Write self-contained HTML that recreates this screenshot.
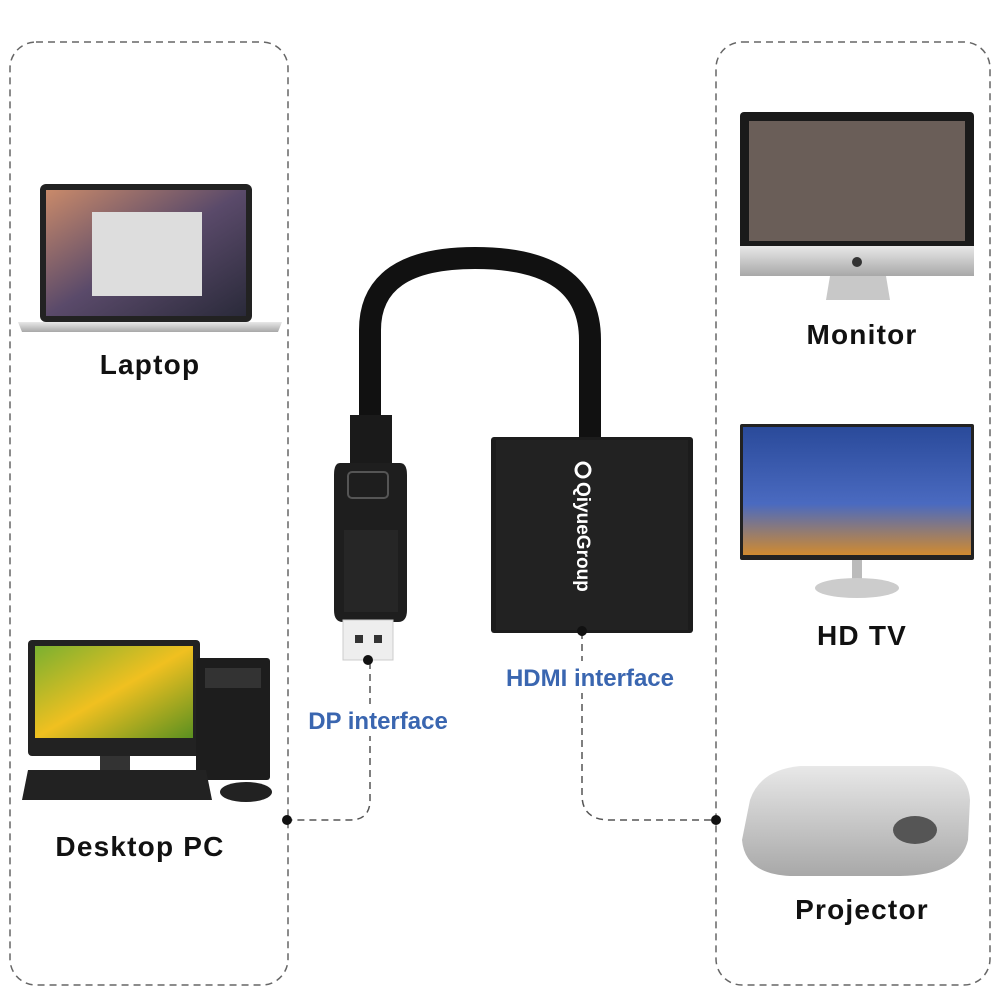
<!DOCTYPE html>
<html><head><meta charset="utf-8"><style>
html,body{margin:0;padding:0;background:#fff;}
svg{display:block;}
text{font-family:"Liberation Sans","DejaVu Sans",sans-serif;font-weight:bold;}
</style></head><body>
<svg width="1001" height="1001" viewBox="0 0 1001 1001" xmlns="http://www.w3.org/2000/svg">
<defs>
<linearGradient id="silver" x1="0" y1="0" x2="0" y2="1"><stop offset="0" stop-color="#e8e8e8"/><stop offset="1" stop-color="#a8a8a8"/></linearGradient>
<linearGradient id="scr" x1="0" y1="0" x2="1" y2="1"><stop offset="0" stop-color="#c98a6a"/><stop offset="0.5" stop-color="#5a4a6a"/><stop offset="1" stop-color="#2a2a3a"/></linearGradient>
<linearGradient id="tv" x1="0" y1="0" x2="0" y2="1"><stop offset="0" stop-color="#2a4a9a"/><stop offset="0.6" stop-color="#4a6ac0"/><stop offset="1" stop-color="#d08a30"/></linearGradient>
<linearGradient id="flower" x1="0" y1="0" x2="1" y2="1"><stop offset="0" stop-color="#7ab030"/><stop offset="0.5" stop-color="#f0c020"/><stop offset="1" stop-color="#5a9020"/></linearGradient>
</defs>
<rect x="10" y="42" width="278" height="943" rx="26" fill="none" stroke="#666" stroke-width="1.5" stroke-dasharray="7,5"/>
<rect x="716" y="42" width="274" height="943" rx="26" fill="none" stroke="#666" stroke-width="1.5" stroke-dasharray="7,5"/>

<!-- laptop -->
<rect x="40" y="184" width="212" height="138" rx="6" fill="#222"/>
<rect x="46" y="190" width="200" height="126" fill="url(#scr)"/>
<rect x="92" y="212" width="110" height="84" fill="#ddd"/>
<path d="M18 322 H282 L278 332 H22 Z" fill="url(#silver)"/>
<text x="150" y="374" font-size="28" letter-spacing="1.2" text-anchor="middle" fill="#111">Laptop</text>

<!-- desktop -->
<rect x="28" y="640" width="172" height="116" rx="4" fill="#222"/>
<rect x="35" y="646" width="158" height="92" fill="url(#flower)"/>
<rect x="100" y="756" width="30" height="14" fill="#333"/>
<rect x="196" y="658" width="74" height="122" rx="3" fill="#1d1d1d"/>
<rect x="205" y="668" width="56" height="20" fill="#333"/>
<path d="M28 770 H206 L212 800 H22 Z" fill="#222"/>
<ellipse cx="246" cy="792" rx="26" ry="10" fill="#222"/>
<text x="140" y="856" font-size="28" letter-spacing="1.2" text-anchor="middle" fill="#111">Desktop PC</text>

<!-- monitor -->
<rect x="740" y="112" width="234" height="148" rx="4" fill="#1a1a1a"/>
<rect x="749" y="121" width="216" height="120" fill="#6a5e58"/>
<rect x="740" y="246" width="234" height="30" fill="url(#silver)"/>
<circle cx="857" cy="262" r="5" fill="#333"/>
<path d="M830 276 H886 L890 300 H826 Z" fill="#c8c8c8"/>
<text x="862" y="344" font-size="28" letter-spacing="1.2" text-anchor="middle" fill="#111">Monitor</text>

<!-- tv -->
<rect x="740" y="424" width="234" height="136" rx="2" fill="#222"/>
<rect x="743" y="427" width="228" height="128" fill="url(#tv)"/>
<rect x="852" y="560" width="10" height="20" fill="#bbb"/>
<ellipse cx="857" cy="588" rx="42" ry="10" fill="#ccc"/>
<text x="862" y="645" font-size="28" letter-spacing="1.2" text-anchor="middle" fill="#111">HD TV</text>

<!-- projector -->
<path d="M750 800 Q760 770 800 766 H930 Q968 768 970 800 L968 840 Q960 875 900 876 H790 Q745 874 742 840 Z" fill="url(#silver)"/>
<ellipse cx="915" cy="830" rx="22" ry="14" fill="#555"/>
<text x="862" y="919" font-size="28" letter-spacing="1.2" text-anchor="middle" fill="#111">Projector</text>

<!-- cable -->
<path d="M370 420 V330 Q370 258 475 258 Q590 258 590 340 V440" fill="none" stroke="#111" stroke-width="22"/>
<rect x="350" y="415" width="42" height="50" fill="#1a1a1a"/>
<path d="M340 463 H400 Q407 463 407 475 V610 Q407 622 398 622 H343 Q334 622 334 610 V475 Q334 463 340 463 Z" fill="#1e1e1e"/>
<rect x="348" y="472" width="40" height="26" rx="4" fill="none" stroke="#555" stroke-width="2"/>
<path d="M344 530 H398 V612 H344 Z" fill="#262626"/>
<rect x="343" y="620" width="50" height="40" fill="#eee" stroke="#ccc"/>
<rect x="355" y="635" width="8" height="8" fill="#333"/>
<rect x="374" y="635" width="8" height="8" fill="#333"/>

<!-- HDMI box -->
<rect x="491" y="437" width="202" height="196" rx="3" fill="#1c1c1c"/>
<rect x="496" y="440" width="192" height="190" fill="#222"/>
<circle cx="583" cy="470" r="7" fill="none" stroke="#fff" stroke-width="3"/>
<text transform="translate(577,482) rotate(90)" font-size="19" fill="#fff" font-weight="normal">QiyueGroup</text>

<!-- connectors -->
<path d="M370 662 V800 Q370 820 350 820 H287" fill="none" stroke="#555" stroke-width="1.5" stroke-dasharray="7,5"/>
<path d="M582 632 V795 Q582 820 610 820 H716" fill="none" stroke="#555" stroke-width="1.5" stroke-dasharray="7,5"/>
<circle cx="368" cy="660" r="5" fill="#111"/>
<circle cx="582" cy="631" r="5" fill="#111"/>
<circle cx="287" cy="820" r="5" fill="#111"/>
<circle cx="716" cy="820" r="5" fill="#111"/>

<rect x="303" y="704" width="152" height="32" fill="#fff"/>
<rect x="496" y="661" width="190" height="32" fill="#fff"/>
<text x="378" y="729" font-size="24" text-anchor="middle" fill="#3a66b0">DP interface</text>
<text x="590" y="686" font-size="24" text-anchor="middle" fill="#3a66b0">HDMI interface</text>
</svg>
</body></html>
